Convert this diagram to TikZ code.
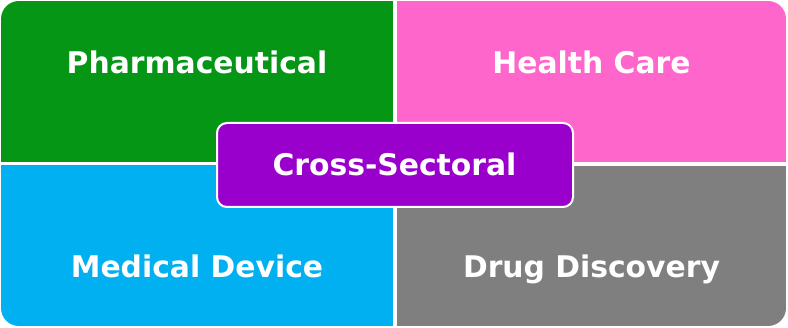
\documentclass[tikz,border=0pt]{standalone}
\usepackage{fontspec}
\setmainfont{DejaVu Sans}
\definecolor{cgreen}{HTML}{069616}
\definecolor{cpink}{HTML}{FF66CC}
\definecolor{cblue}{HTML}{00B0F0}
\definecolor{cgray}{HTML}{7F7F7F}
\definecolor{cpurple}{HTML}{9900CC}
\tikzset{
  lbl/.style={text=white, font=\fontsize{29.8}{32}\selectfont\bfseries, inner sep=0pt, anchor=base},
  quad/.style={inner sep=0pt, outer sep=0pt}
}
\begin{document}
\begin{tikzpicture}[x=1pt,y=-1pt]
\useasboundingbox (0,0) rectangle (788,328);
\begin{scope}
\clip[rounded corners=18pt] (1,1) rectangle (786,326);
\fill[cgreen] (1,1) rectangle (393,162);
\fill[cpink] (397,1) rectangle (786,162);
\fill[cblue] (1,165) rectangle (393,326);
\fill[cgray] (397,166) rectangle (786,326);
\end{scope}
\node[lbl] (pharma) at (197,73.5) {Pharmaceutical};
\node[lbl] (health) at (591.5,73.5) {Health Care};
\node[lbl] (medical) at (197,277.5) {Medical Device};
\node[lbl] (drug) at (591.5,277.5) {Drug Discovery};
\node[draw=white, line width=2pt, fill=cpurple, rounded corners=10pt, minimum width=356pt, minimum height=84pt, inner sep=0pt] (cross) at (395,165) {};
\node[lbl] (crosstext) at (394.5,175.5) {Cross-Sectoral};
\end{tikzpicture}
\end{document}
